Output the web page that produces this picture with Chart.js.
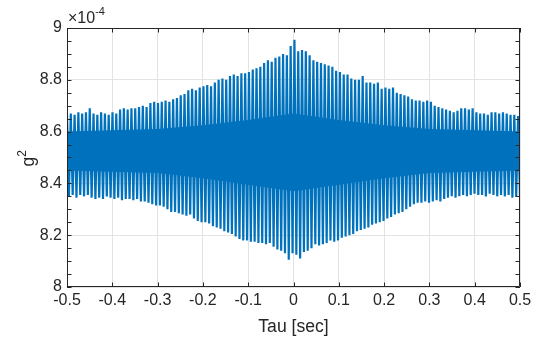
<!DOCTYPE html>
<html>
<head>
<meta charset="utf-8">
<script src="https://cdn.jsdelivr.net/npm/chart.js@4.4.1/dist/chart.umd.min.js"></script>
<style>
  html, body { margin: 0; padding: 0; background: #fff; }
  #wrap { width: 536px; height: 339px; }
</style>
</head>
<body>
<div id="wrap"><canvas id="chart" width="536" height="339"></canvas></div>
<script>
// upper spike tips (x1e-4), one per cycle, read left to right
const upperPeaks = [
    8.665, 8.67, 8.665, 8.675, 8.67, 8.675, 8.69, 8.67, 8.665, 8.675,
    8.67, 8.665, 8.675, 8.67, 8.685, 8.69, 8.685, 8.69, 8.69, 8.695,
    8.70, 8.695, 8.71, 8.715, 8.71, 8.715, 8.72, 8.715, 8.725, 8.73,
    8.74, 8.745, 8.76, 8.765, 8.76, 8.77, 8.775, 8.78, 8.775, 8.79,
    8.80, 8.805, 8.80, 8.815, 8.82, 8.815, 8.825, 8.825, 8.83, 8.84,
    8.845, 8.85, 8.865, 8.875, 8.87, 8.885, 8.89, 8.90, 8.895, 8.93,
    8.955, 8.91, 8.915, 8.91, 8.895, 8.875, 8.87, 8.865, 8.86, 8.855,
    8.85, 8.835, 8.83, 8.82, 8.82, 8.805, 8.80, 8.80, 8.815, 8.79,
    8.79, 8.785, 8.79, 8.765, 8.77, 8.765, 8.77, 8.75, 8.745, 8.74,
    8.735, 8.725, 8.72, 8.72, 8.715, 8.72, 8.715, 8.70, 8.695, 8.69,
    8.685, 8.68, 8.675, 8.68, 8.69, 8.69, 8.685, 8.69, 8.675, 8.67,
    8.67, 8.665, 8.675, 8.675, 8.67, 8.675, 8.67, 8.665, 8.665, 8.66
];
// lower spike tips (x1e-4), one per cycle
const lowerPeaks = [
    8.35, 8.355, 8.345, 8.355, 8.35, 8.355, 8.345, 8.34, 8.345, 8.34,
    8.35, 8.345, 8.34, 8.345, 8.335, 8.34, 8.34, 8.335, 8.34, 8.33,
    8.33, 8.325, 8.32, 8.315, 8.315, 8.31, 8.30, 8.29, 8.29, 8.285,
    8.28, 8.275, 8.28, 8.265, 8.255, 8.25, 8.25, 8.245, 8.235, 8.23,
    8.225, 8.215, 8.21, 8.205, 8.195, 8.185, 8.18, 8.18, 8.175, 8.175,
    8.17, 8.17, 8.165, 8.17, 8.155, 8.145, 8.14, 8.13, 8.105, 8.13,
    8.125, 8.11, 8.135, 8.14, 8.15, 8.165, 8.16, 8.165, 8.17, 8.18,
    8.175, 8.18, 8.19, 8.195, 8.20, 8.205, 8.215, 8.22, 8.225, 8.23,
    8.24, 8.245, 8.25, 8.255, 8.265, 8.27, 8.28, 8.285, 8.29, 8.30,
    8.31, 8.32, 8.325, 8.325, 8.33, 8.325, 8.33, 8.335, 8.33, 8.34,
    8.345, 8.35, 8.345, 8.35, 8.355, 8.35, 8.355, 8.36, 8.355, 8.355,
    8.35, 8.36, 8.355, 8.35, 8.355, 8.35, 8.355, 8.345, 8.35, 8.35
];
// solid core of the trace
const coreTau = [-0.5, -0.4, -0.3, -0.2, -0.1, 0, 0.1, 0.2, 0.3, 0.4, 0.5];
const coreTop = [8.60, 8.605, 8.61, 8.625, 8.645, 8.67, 8.645, 8.625, 8.61, 8.605, 8.60];
const coreBottom = [8.45, 8.445, 8.44, 8.42, 8.395, 8.37, 8.395, 8.42, 8.44, 8.445, 8.45];

const xTicks = [-0.5, -0.4, -0.3, -0.2, -0.1, 0, 0.1, 0.2, 0.3, 0.4, 0.5];
const yTicks = [8, 8.2, 8.4, 8.6, 8.8, 9];

const LINE = '#0072BD';
const AXIS = '#262626';
const FONT = 'Liberation Sans, Arial, Helvetica, sans-serif';

// sample grid: tips alternate upper/lower across the tau span
const nPts = upperPeaks.length * 2;
const trace = [];
for (let i = 0; i < upperPeaks.length; i++) {
    trace.push({x: -0.5 + (2 * i) / (nPts - 1), y: upperPeaks[i]});
    trace.push({x: -0.5 + (2 * i + 1) / (nPts - 1), y: lowerPeaks[i]});
}
const coreHi = coreTau.map((t, i) => ({x: t, y: coreTop[i]}));
const coreLo = coreTau.map((t, i) => ({x: t, y: coreBottom[i]}));

const fmt = v => String(Math.round(v * 10) / 10);

const frame = {
    id: 'frame',
    afterDraw(chart) {
        const ctx = chart.ctx;
        const a = chart.chartArea;
        const xs = chart.scales.x, ys = chart.scales.y;
        ctx.save();
        ctx.strokeStyle = AXIS;
        ctx.lineWidth = 1;
        ctx.beginPath();
        ctx.rect(a.left + 0.5, a.top + 0.5, a.right - a.left - 1, a.bottom - a.top - 1);
        const tl = 4.5;
        xTicks.forEach(t => {
            const px = Math.round(xs.getPixelForValue(t)) + 0.5;
            ctx.moveTo(px, a.bottom); ctx.lineTo(px, a.bottom - tl);
            ctx.moveTo(px, a.top); ctx.lineTo(px, a.top + tl);
        });
        for (let v = 8; v <= 9.0001; v += 0.05) {
            const py = Math.round(ys.getPixelForValue(v)) + 0.5;
            ctx.moveTo(a.left, py); ctx.lineTo(a.left + tl, py);
            ctx.moveTo(a.right, py); ctx.lineTo(a.right - tl, py);
        }
        ctx.stroke();

        ctx.fillStyle = AXIS;
        // exponent label
        ctx.font = '16px ' + FONT;
        ctx.textAlign = 'left';
        ctx.textBaseline = 'alphabetic';
        ctx.fillText('\u00d710', 68, 23);
        const w = ctx.measureText('\u00d710').width;
        ctx.font = '11px ' + FONT;
        ctx.fillText('-4', 68 + w, 15);

        // x title
        ctx.font = '17.6px ' + FONT;
        ctx.textAlign = 'center';
        ctx.fillText('Tau [sec]', (a.left + a.right) / 2, 332);

        // y title g^2
        ctx.translate(34, (a.top + a.bottom) / 2 + 4);
        ctx.rotate(-Math.PI / 2);
        ctx.textAlign = 'left';
        ctx.font = '17.6px ' + FONT;
        ctx.fillText('g', -5, 0);
        const gw = ctx.measureText('g').width;
        ctx.font = '12px ' + FONT;
        ctx.fillText('2', -5 + gw, -8);
        ctx.restore();
    }
};

new Chart(document.getElementById('chart'), {
    type: 'line',
    data: {
        datasets: [
            {
                data: trace,
                borderColor: LINE,
                borderWidth: 2.2,
                pointRadius: 0,
                tension: 0,
                fill: false
            },
            {
                data: coreHi,
                borderWidth: 0,
                borderColor: LINE,
                backgroundColor: LINE,
                pointRadius: 0,
                fill: '+1'
            },
            {
                data: coreLo,
                borderWidth: 0,
                borderColor: LINE,
                pointRadius: 0,
                fill: false
            }
        ]
    },
    options: {
        responsive: false,
        animation: false,
        events: [],
        layout: { padding: { left: 0, top: 28, right: 16, bottom: 0 } },
        plugins: { legend: { display: false }, tooltip: { enabled: false } },
        scales: {
            x: {
                type: 'linear',
                min: -0.5,
                max: 0.5,
                afterFit: s => { s.height = 52; },
                afterBuildTicks: s => { s.ticks = xTicks.map(v => ({value: v})); },
                ticks: {
                    autoSkip: false,
                    maxRotation: 0,
                    padding: 4,
                    color: AXIS,
                    font: { family: FONT, size: 16 },
                    callback: fmt
                },
                grid: { color: '#e3e3e3', drawTicks: false },
                border: { display: false }
            },
            y: {
                min: 8,
                max: 9,
                afterFit: s => { s.width = 67; },
                afterBuildTicks: s => { s.ticks = yTicks.map(v => ({value: v})); },
                ticks: {
                    padding: 5,
                    color: AXIS,
                    font: { family: FONT, size: 16 },
                    callback: fmt
                },
                grid: { color: '#e3e3e3', drawTicks: false },
                border: { display: false }
            }
        }
    },
    plugins: [frame]
});
</script>
</body>
</html>
